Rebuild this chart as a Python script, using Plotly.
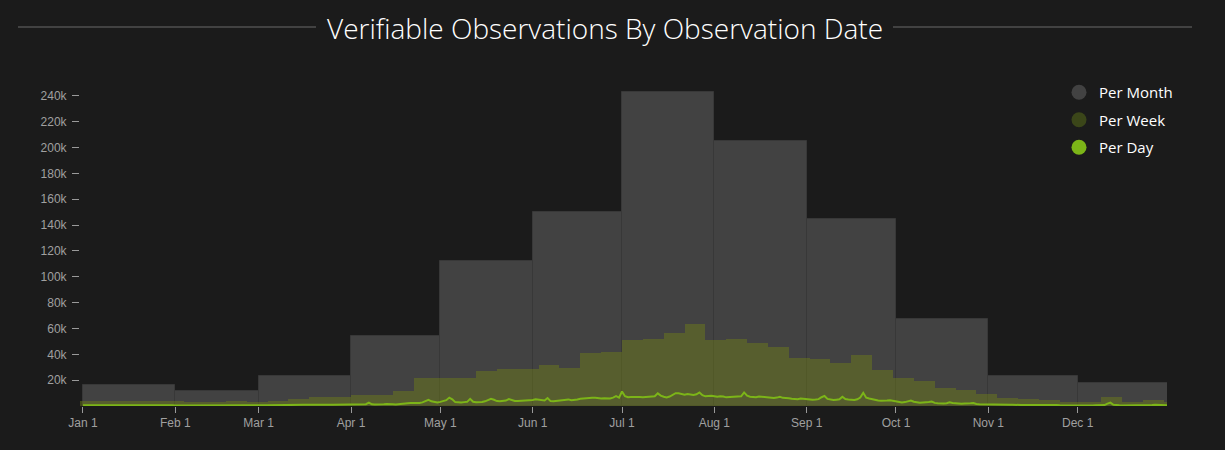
import pandas as pd
import plotly.graph_objects as go

# ---------------- data ----------------
month_starts = ["2018-01-01", "2018-02-01", "2018-03-01", "2018-04-01", "2018-05-01", "2018-06-01",
                "2018-07-01", "2018-08-01", "2018-09-01", "2018-10-01", "2018-11-01", "2018-12-01"]
month_labels = ["Jan 1", "Feb 1", "Mar 1", "Apr 1", "May 1", "Jun 1",
                "Jul 1", "Aug 1", "Sep 1", "Oct 1", "Nov 1", "Dec 1"]
per_month = [16000, 11600, 23000, 54000, 112000, 150000, 243000, 205000, 145000, 67000, 23000, 18000]

week_first = "2017-12-31"
per_week = [3500, 3500, 3500, 4000, 3500, 3000, 3000, 3500, 3000, 4000,
            5400, 7000, 7000, 8500, 8500, 11600, 21700, 21700, 21700, 27000,
            28500, 28700, 31800, 29500, 41000, 42000, 51000, 52000, 56600, 63500,
            51000, 52000, 48800, 45700, 37000, 36400, 33300, 39500, 27900, 21700,
            19400, 14000, 12400, 9300, 6200, 5400, 4600, 3300, 3300, 7000,
            3300, 4600, 3000]

day_first = "2018-01-01"
daily_jan = [520, 480, 510, 530, 560, 600, 650, 540, 470, 490, 500, 520, 610, 640, 520, 480, 460, 500, 530, 580,
             620, 510, 470, 480, 500, 520, 590, 600, 490, 470, 500]
daily_feb = [420, 400, 450, 470, 400, 380, 390, 400, 420, 480, 500, 390, 370, 380, 400, 420, 470, 490, 400, 380,
             390, 410, 430, 480, 500, 420, 390, 400]
daily_mar = [450, 480, 520, 560, 540, 530, 560, 600, 650, 700, 800, 700, 680, 720, 760, 900, 950, 850, 900, 950,
             1000, 1050, 1200, 1300, 1050, 950, 1000, 1050, 1100, 1250, 1300]
daily_apr = [1100, 1300, 1200, 1100, 1150, 1400, 2600, 1300, 1100, 1000, 1200, 1300, 1500, 1700, 1400, 1200, 1300,
             1500, 1800, 2100, 2300, 2200, 2000, 2400, 2800, 3500, 4800, 3600, 3000, 2800]
daily_may = [3200, 3800, 4500, 6500, 5200, 3000, 2800, 2700, 3000, 3200, 5500, 3300, 2900, 2800, 3100, 3600, 4500,
             5600, 4800, 3800, 3600, 3900, 4200, 5400, 4600, 3900, 3800, 3900, 4100, 4300, 4700]
daily_jun = [4700, 5200, 4900, 4400, 4300, 6200, 3800, 3600, 3900, 4300, 4200, 4600, 5100, 4400, 4500, 5000, 5600,
             5900, 5800, 6100, 6400, 6300, 5900, 5800, 6000, 5700, 5900, 6500, 7600, 6500]
daily_jul = [11200, 7600, 6800, 6900, 7000, 7200, 6900, 6800, 7000, 7200, 7300, 7500, 9800, 8000, 7200, 6600, 7300,
             8800, 9900, 9800, 9000, 8800, 9200, 8900, 8600, 9100, 10500, 8400, 7500, 7800, 8000]
daily_aug = [7600, 7200, 7500, 7400, 6700, 6900, 7000, 7300, 7200, 7500, 10500, 8000, 7200, 7100, 6800, 7300, 7000,
             6800, 6500, 6400, 6200, 6500, 7100, 6300, 6400, 6000, 5600, 5400, 5200, 5800, 5500]
daily_sep = [5200, 5100, 4800, 5000, 5300, 6800, 7800, 5500, 4800, 4600, 4900, 5200, 7200, 5400, 5100, 5000, 4700,
             5200, 6500, 10200, 6400, 5800, 5100, 4500, 4300, 4100, 3900, 4200, 4500, 4000]
daily_oct = [3400, 3100, 2800, 3000, 3600, 4200, 3300, 2900, 2600, 2800, 2700, 3100, 3400, 2400, 2100, 1900, 2000,
             2200, 2900, 2400, 2000, 1800, 1700, 1900, 1800, 2100, 2300, 1500, 1400, 1300, 1300]
daily_nov = [1300, 1200, 1400, 1000, 900, 850, 900, 950, 1000, 1100, 800, 750, 700, 720, 760, 900, 950, 700, 650,
             620, 600, 700, 750, 800, 500, 450, 430, 450, 480, 520]
daily_dec = [500, 550, 450, 420, 430, 460, 500, 520, 600, 700, 1800, 2600, 1000, 600, 500, 450, 430, 420, 440, 460,
             480, 500, 550, 600, 500, 700, 900, 800, 650, 700, 650]

y_ticks = [20000, 40000, 60000, 80000, 100000, 120000, 140000, 160000, 180000, 200000, 220000, 240000]
y_tick_labels = ["20k", "40k", "60k", "80k", "100k", "120k", "140k", "160k", "180k", "200k", "220k", "240k"]

title_text = "Verifiable Observations By Observation Date"
series_names = ["Per Month", "Per Week", "Per Day"]

# ---------------- derived ----------------
per_day = (daily_jan + daily_feb + daily_mar + daily_apr + daily_may + daily_jun +
           daily_jul + daily_aug + daily_sep + daily_oct + daily_nov + daily_dec)
day_dates = pd.date_range(day_first, periods=len(per_day), freq="D")
week_dates = pd.date_range(week_first, periods=len(per_week), freq="7D")
m_dates = pd.to_datetime(month_starts)
DAY_MS = 86400000
m_widths = [(m.days_in_month) * DAY_MS for m in m_dates]

BG = "#1b1b1b"
MONTH_C = "#424242"
WEEK_C = "rgba(112,128,22,0.45)"
WEEK_LEG = "#3b4619"
DAY_C = "#7cb518"

fig = go.Figure()
fig.add_trace(go.Bar(x=m_dates, y=per_month, width=m_widths, offset=0,
                     marker=dict(color=MONTH_C, line=dict(color="#383838", width=1)),
                     showlegend=False, hoverinfo="skip"))
fig.add_trace(go.Bar(x=week_dates, y=per_week, width=[7 * DAY_MS] * len(per_week), offset=0,
                     marker=dict(color=WEEK_C, line=dict(width=0)),
                     showlegend=False, hoverinfo="skip"))
fig.add_trace(go.Scatter(x=day_dates, y=per_day, mode="lines",
                         line=dict(color=DAY_C, width=2), showlegend=False, hoverinfo="skip"))

# legend-only entries with round markers
for name, col in zip(series_names, [MONTH_C, WEEK_LEG, DAY_C]):
    fig.add_trace(go.Scatter(x=[None], y=[None], mode="markers", name=name, legendgroup=name,
                             marker=dict(color=col, size=15, symbol="circle")))

L, R, T, B = 80, 58, 83, 44
W, H = 1225, 450
pw, ph = W - L - R, H - T - B


def px_x(px):
    return (px - L) / pw


def px_y(py):
    return 1 + (T - py) / ph


fig.update_layout(
    width=W, height=H,
    paper_bgcolor=BG, plot_bgcolor=BG,
    margin=dict(l=L, r=R, t=T, b=B),
    barmode="overlay", bargap=0,
    showlegend=True,
    legend=dict(x=px_x(1059), y=px_y(76), xanchor="left", yanchor="top",
                bgcolor="rgba(0,0,0,0)", font=dict(family="Open Sans", size=15, color="#ffffff"),
                tracegroupgap=5, itemsizing="trace"),
    xaxis=dict(type="date", range=["2017-12-31", "2018-12-31"],
               tickvals=m_dates, ticktext=month_labels,
               showgrid=False, zeroline=False, showline=False,
               ticks="outside", ticklen=6, tickwidth=1, tickcolor="#9a9a9a",
               tickfont=dict(family="Liberation Sans", size=12, color="#a0a0a0")),
    yaxis=dict(range=[0, 250000], tickvals=y_ticks, ticktext=y_tick_labels,
               showgrid=False, zeroline=False, showline=False,
               ticks="outside", ticklen=7, tickwidth=1, tickcolor="#9a9a9a",
               ticklabelstandoff=3,
               tickfont=dict(family="Liberation Sans", size=12, color="#a0a0a0")),
    annotations=[dict(text=title_text, xref="paper", yref="paper",
                      x=px_x(605), y=px_y(28), xanchor="center", yanchor="middle",
                      showarrow=False,
                      font=dict(family="Open Sans", size=28, color="#ffffff", weight=300))],
    shapes=[dict(type="line", xref="paper", yref="paper", x0=px_x(18), x1=px_x(316),
                 y0=px_y(27), y1=px_y(27), line=dict(color="#6a6a6a", width=1)),
            dict(type="line", xref="paper", yref="paper", x0=px_x(893), x1=px_x(1192),
                 y0=px_y(27), y1=px_y(27), line=dict(color="#6a6a6a", width=1))],
)

fig.write_html("out.html")
